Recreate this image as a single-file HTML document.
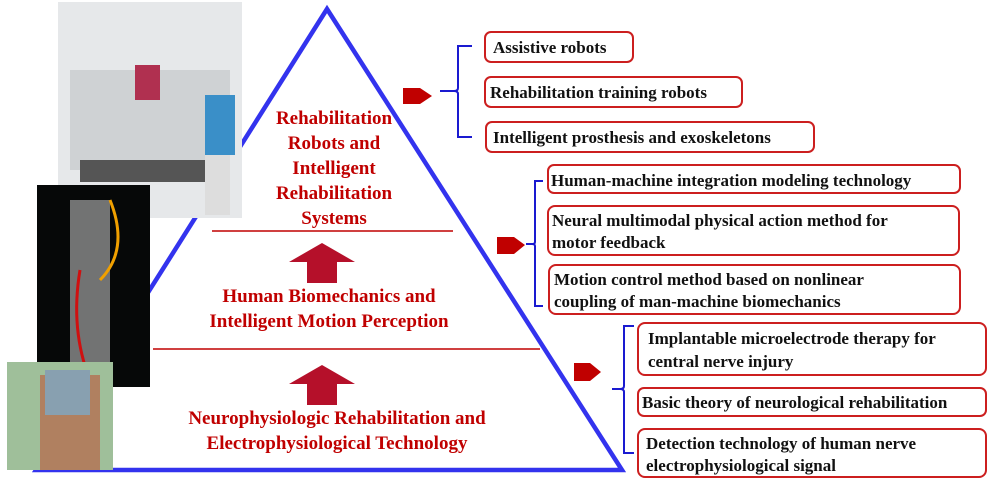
<!DOCTYPE html>
<html><head><meta charset="utf-8"><style>
html,body{margin:0;padding:0;background:#fff;}
svg{display:block}
text{font-family:"Liberation Serif","Noto Serif CJK SC","DejaVu Serif",serif;font-weight:bold}
.r{fill:#c00000;font-size:19px;text-anchor:middle}
.b{fill:#111;font-size:17px}
.bx{fill:#fff;stroke:#cc1f1f;stroke-width:2}
.br{fill:none;stroke:#1a1ad0;stroke-width:2}
</style></head><body>
<svg width="998" height="485" viewBox="0 0 998 485" xmlns="http://www.w3.org/2000/svg">
<polygon points="327,9 36,470 622,470" fill="none" stroke="#3333ee" stroke-width="4.5"/>
<rect x="58" y="2" width="184" height="216" fill="#e6e8ea"/>
<rect x="70" y="70" width="160" height="100" fill="#cfd2d4"/>
<rect x="80" y="160" width="150" height="22" fill="#555"/>
<rect x="135" y="65" width="25" height="35" fill="#b03050"/>
<rect x="205" y="95" width="30" height="60" fill="#3a8fc8"/>
<rect x="205" y="155" width="25" height="60" fill="#ddd"/>
<rect x="37" y="185" width="113" height="202" fill="#060808"/>
<rect x="70" y="200" width="40" height="180" fill="#bbb" opacity="0.6"/>
<path d="M80 270 Q70 330 90 380" stroke="#d01010" stroke-width="3" fill="none"/>
<path d="M110 200 Q130 250 100 280" stroke="#f0a000" stroke-width="3" fill="none"/>
<rect x="7" y="362" width="106" height="108" fill="#9fbf9a"/>
<rect x="40" y="375" width="60" height="95" fill="#b08060"/>
<rect x="45" y="370" width="45" height="45" fill="#88a0b0"/>
<line x1="212" y1="231" x2="453" y2="231" stroke="#c00000" stroke-width="1.5"/>
<line x1="153" y1="349" x2="540" y2="349" stroke="#c00000" stroke-width="1.5"/>
<polygon points="322,243 355,262 337,262 337,283 307,283 307,262 289,262" fill="#b5102a"/>
<polygon points="322,365 355,384 337,384 337,405 307,405 307,384 289,384" fill="#b5102a"/>
<text class="r" x="334" y="124">Rehabilitation</text>
<text class="r" x="334" y="149">Robots and</text>
<text class="r" x="334" y="174">Intelligent</text>
<text class="r" x="334" y="199">Rehabilitation</text>
<text class="r" x="334" y="224">Systems</text>
<text class="r" x="329" y="302">Human Biomechanics and</text>
<text class="r" x="329" y="327">Intelligent Motion Perception</text>
<text class="r" x="337" y="424">Neurophysiologic Rehabilitation and</text>
<text class="r" x="337" y="449">Electrophysiological Technology</text>
<polygon points="403,88 420,88 432,96 420,104 403,104" fill="#c00000"/>
<polygon points="497,237 514,237 525,245 514,254 497,254" fill="#c00000"/>
<polygon points="574,363 590,363 601,372 590,381 574,381" fill="#c00000"/>
<path class="br" d="M472,46 H458 V88 Q458,91 454,91 H440 M454,91 Q458,91 458,94 V137 H472"/>
<path class="br" d="M543,181 H535 V242 Q535,244 532,244 H526 M532,244 Q535,244 535,246 V306 H543"/>
<path class="br" d="M634,326 H624 V386 Q624,389 620,389 H612 M620,389 Q624,389 624,392 V453 H634"/>
<rect class="bx" x="485" y="32" width="148" height="30" rx="6"/>
<text class="b" x="493" y="53">Assistive robots</text>
<rect class="bx" x="485" y="77" width="257" height="30" rx="6"/>
<text class="b" x="490" y="98">Rehabilitation training robots</text>
<rect class="bx" x="486" y="122" width="328" height="30" rx="6"/>
<text class="b" x="493" y="143">Intelligent prosthesis and exoskeletons</text>
<rect class="bx" x="548" y="165" width="412" height="28" rx="6"/>
<text class="b" x="551" y="186">Human-machine integration modeling technology</text>
<rect class="bx" x="548" y="206" width="411" height="49" rx="7"/>
<text class="b" x="552" y="226">Neural multimodal physical action method for</text>
<text class="b" x="552" y="248">motor feedback</text>
<rect class="bx" x="549" y="265" width="411" height="49" rx="7"/>
<text class="b" x="554" y="285">Motion control method based on nonlinear</text>
<text class="b" x="554" y="307">coupling of man-machine biomechanics</text>
<rect class="bx" x="638" y="323" width="348" height="52" rx="7"/>
<text class="b" x="648" y="344">Implantable microelectrode therapy for</text>
<text class="b" x="648" y="367">central nerve injury</text>
<rect class="bx" x="638" y="388" width="348" height="28" rx="6"/>
<text class="b" x="642" y="408">Basic theory of neurological rehabilitation</text>
<rect class="bx" x="638" y="429" width="348" height="48" rx="7"/>
<text class="b" x="646" y="449">Detection technology of human nerve</text>
<text class="b" x="646" y="471">electrophysiological signal</text>
</svg>
</body></html>
